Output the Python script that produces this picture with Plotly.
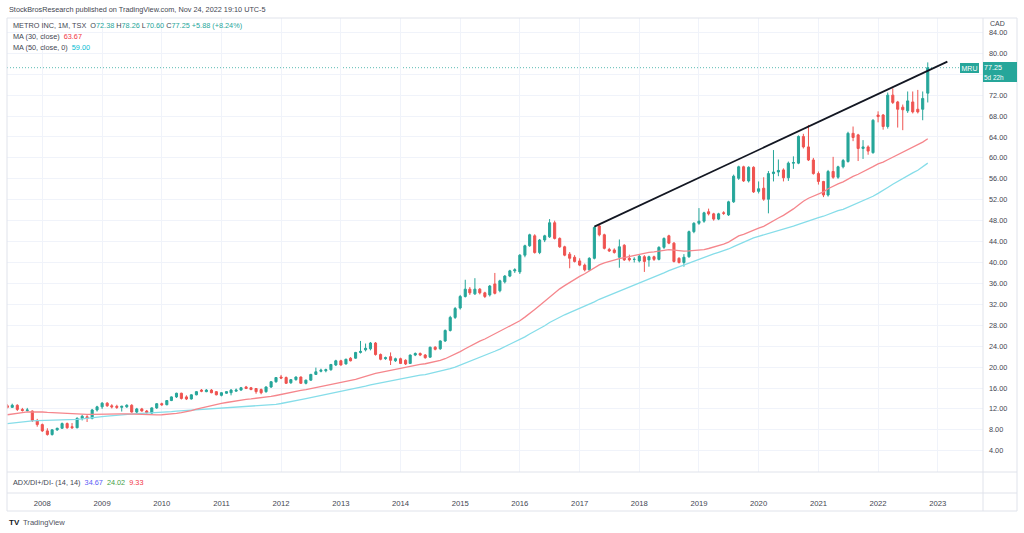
import pandas as pd
import plotly.graph_objects as go

# ---------------- data (monthly candles, Jun 2007 .. Nov 2022) ----------------
start_month = "2007-06-01"

opens = [
    # 2007 Jun-Dec
    12.6, 12.3, 12.7, 11.9, 11.7, 11.6, 9.8,
    # 2008
    9.0, 7.8, 7.1, 8.0, 8.3, 9.2, 8.6, 8.4, 10.2, 10.5, 10.2, 11.8,
    # 2009
    12.4, 13.1, 12.6, 12.5, 12.3, 12.4, 12.7, 11.4, 12.0, 11.6, 11.2, 12.2,
    # 2010
    13.0, 12.8, 13.6, 14.3, 15.0, 14.3, 13.9, 14.7, 15.6, 15.3, 15.6, 15.3,
    # 2011
    14.6, 15.0, 15.1, 15.4, 15.6, 16.2, 16.05, 15.9, 15.7, 15.3, 16.2, 17.2,
    # 2012
    18.1, 18.0, 17.0, 17.6, 18.1, 16.9, 17.5, 18.6, 19.2, 19.3, 19.5, 20.4,
    # 2013
    21.2, 20.6, 21.7, 21.7, 22.8, 23.3, 23.5, 24.6, 22.4, 21.6, 22.0, 21.2,
    # 2014
    21.6, 21.3, 20.7, 22.3, 22.6, 22.3, 21.9, 23.8, 23.5, 25.0, 27.0, 29.5,
    # 2015
    31.3, 33.5, 34.9, 34.0, 34.9, 34.2, 33.8, 35.9, 34.6, 36.3, 37.4, 38.4,
    # 2016
    38.2, 41.4, 43.2, 45.1, 41.9, 44.3, 44.9, 47.6, 44.6, 43.0, 41.6, 41.0,
    # 2017
    40.3, 39.5, 38.6, 40.8, 47.0, 45.3, 42.5, 42.4, 41.0, 43.3, 40.8, 40.6,
    # 2018
    40.3, 41.1, 40.5, 41.1, 40.6, 42.9, 45.1, 43.7, 40.8, 40.0, 41.1, 45.9,
    # 2019
    47.5, 47.9, 49.7, 49.3, 48.3, 49.5, 49.1, 51.6, 56.1, 58.3, 55.6, 58.2,
    # 2020
    53.6, 54.2, 52.1, 57.0, 57.3, 57.7, 56.2, 59.0, 59.0, 64.1, 62.1, 59.6,
    # 2021
    57.0, 55.5, 52.9, 57.4, 56.3, 58.3, 59.3, 64.7, 64.4, 61.8, 62.1, 61.0,
    # 2022 Jan-Nov
    68.2, 68.2, 66.0, 72.0, 70.7, 69.7, 69.0, 70.7, 69.3, 69.3, 72.38,
]
highs = [
    12.9, 13.0, 12.9, 12.2, 12.2, 11.7, 10.1,
    9.2, 8.3, 8.1, 8.4, 9.4, 9.4, 9.3, 10.4, 10.9, 10.8, 12.0, 12.6,
    13.3, 13.3, 12.9, 12.8, 12.6, 12.9, 12.9, 12.2, 12.2, 11.8, 12.3, 13.1,
    13.2, 13.7, 14.4, 15.1, 15.1, 14.6, 14.8, 15.4, 15.8, 15.8, 15.8, 15.4,
    15.2, 15.4, 15.8, 15.9, 16.2, 16.4, 16.2, 16.0, 15.9, 16.3, 17.3, 18.1,
    18.5, 18.2, 17.7, 18.2, 18.2, 17.6, 18.7, 19.9, 19.7, 19.7, 20.6, 21.4,
    21.4, 21.6, 21.9, 22.9, 25.0, 24.5, 24.8, 24.8, 22.6, 22.0, 22.8, 21.8,
    21.8, 21.5, 22.4, 22.8, 22.8, 22.5, 23.9, 24.0, 25.1, 27.2, 29.8, 31.5,
    33.8, 36.7, 35.3, 37.0, 35.1, 34.4, 35.7, 38.0, 36.7, 37.6, 38.6, 38.9,
    41.6, 43.4, 45.5, 45.4, 44.5, 45.3, 48.3, 48.0, 44.8, 43.2, 42.0, 41.4,
    40.8, 39.8, 41.0, 46.9, 47.3, 45.5, 42.8, 42.7, 44.4, 43.5, 41.5, 41.0,
    41.5, 41.4, 41.3, 41.3, 43.1, 44.8, 45.3, 43.9, 41.0, 41.6, 46.1, 47.7,
    50.4, 49.7, 50.3, 49.5, 49.5, 49.8, 51.8, 56.8, 58.5, 58.5, 58.4, 58.4,
    55.5, 56.3, 57.5, 61.5, 59.7, 58.0, 59.3, 60.3, 64.3, 64.6, 66.3, 60.0,
    57.4, 55.6, 57.7, 60.2, 58.5, 59.8, 65.0, 66.0, 64.6, 63.4, 62.4, 67.4,
    68.9, 68.4, 72.5, 73.3, 70.9, 70.2, 72.7, 72.7, 73.0, 72.7, 78.26,
]
lows = [
    12.1, 12.2, 11.6, 11.5, 11.5, 9.5, 8.6,
    7.6, 6.9, 6.9, 7.8, 8.2, 8.2, 8.2, 8.3, 9.8, 9.5, 10.0, 11.5,
    12.0, 12.4, 12.1, 12.0, 11.5, 12.2, 11.3, 11.2, 11.5, 11.1, 11.0, 12.0,
    12.6, 12.7, 13.5, 14.1, 13.8, 13.7, 13.8, 14.6, 15.2, 15.2, 15.0, 14.6,
    14.4, 14.9, 14.6, 15.3, 15.5, 15.8, 15.6, 14.9, 14.8, 15.1, 16.0, 17.0,
    17.7, 16.8, 16.8, 17.4, 16.8, 16.7, 17.4, 18.5, 19.0, 19.0, 19.3, 20.2,
    20.3, 20.5, 21.1, 21.6, 22.6, 23.0, 23.2, 22.2, 21.3, 21.4, 20.4, 21.0,
    20.6, 20.4, 20.6, 22.1, 22.1, 21.6, 21.8, 23.2, 23.3, 24.8, 26.8, 29.2,
    31.0, 33.3, 33.8, 33.8, 33.9, 33.2, 33.5, 33.9, 34.3, 36.0, 37.2, 38.0,
    37.8, 41.0, 43.0, 41.7, 41.6, 43.9, 44.7, 44.4, 42.8, 41.2, 38.9, 40.0,
    39.3, 38.3, 38.4, 40.6, 45.0, 42.5, 42.0, 41.7, 39.0, 40.3, 40.2, 40.0,
    40.0, 38.2, 39.2, 40.3, 40.4, 42.6, 43.5, 40.0, 39.8, 39.2, 40.9, 45.6,
    47.2, 47.6, 49.0, 48.0, 48.1, 49.1, 48.9, 51.4, 55.8, 55.4, 55.3, 53.3,
    53.2, 51.8, 49.4, 55.5, 56.5, 55.5, 55.6, 57.9, 58.8, 61.8, 59.4, 56.8,
    54.9, 52.5, 52.6, 56.0, 56.0, 58.0, 59.1, 63.2, 59.4, 59.8, 60.6, 60.8,
    66.8, 65.4, 65.6, 70.3, 65.8, 65.3, 68.6, 68.5, 68.5, 67.2, 70.60,
]
closes = [
    12.3, 12.7, 11.9, 11.7, 11.8, 9.8, 9.0,
    7.8, 7.1, 8.0, 8.3, 9.2, 8.4, 8.4, 10.2, 10.6, 10.2, 11.8, 12.4,
    13.1, 12.6, 12.4, 12.3, 12.5, 12.7, 11.4, 12.0, 11.6, 11.3, 12.2, 13.0,
    12.8, 13.6, 14.3, 15.0, 14.0, 13.9, 14.7, 15.3, 15.4, 15.6, 15.1, 14.7,
    15.1, 15.3, 15.6, 15.6, 16.05, 15.9, 15.7, 15.3, 15.1, 16.2, 17.2, 18.0,
    17.9, 16.9, 17.6, 18.1, 16.9, 17.5, 18.6, 19.1, 19.4, 19.5, 20.5, 21.2,
    20.4, 21.5, 21.2, 22.8, 23.0, 23.6, 24.6, 22.4, 21.5, 21.8, 21.3, 21.6,
    20.7, 20.6, 22.3, 22.6, 22.3, 21.8, 23.8, 23.4, 25.0, 27.0, 29.5, 31.2,
    33.5, 34.9, 34.2, 34.9, 34.2, 33.5, 35.5, 34.1, 36.5, 37.4, 38.4, 38.6,
    41.4, 43.2, 45.3, 41.9, 44.3, 45.1, 47.6, 44.6, 43.0, 41.4, 40.8, 40.2,
    39.5, 38.6, 40.8, 46.7, 45.3, 42.7, 42.2, 41.9, 43.0, 40.5, 40.5, 40.6,
    41.2, 40.2, 41.1, 40.6, 42.9, 44.6, 43.7, 40.2, 40.0, 41.0, 45.9, 47.5,
    47.9, 49.5, 49.3, 48.3, 49.3, 49.4, 51.6, 56.5, 58.3, 55.6, 58.2, 53.5,
    54.1, 52.1, 57.0, 57.3, 57.6, 56.2, 59.0, 59.1, 64.1, 62.1, 59.6, 57.0,
    55.5, 52.9, 57.4, 56.3, 58.3, 59.5, 64.7, 63.9, 61.8, 62.1, 61.3, 67.2,
    67.9, 66.0, 72.0, 70.6, 69.3, 69.2, 70.9, 68.8, 68.8, 71.37, 77.25,
]
# earlier monthly closes (May 2003 .. May 2007), off-screen, used only to warm up the MAs
closes_before = [
    6.3, 6.4, 6.5, 6.4, 6.6, 6.7, 6.9, 7.0,
    7.0, 7.1, 6.9, 6.6, 6.4, 6.5, 6.6, 6.3, 6.4, 6.5, 6.7, 7.0,
    7.6, 7.9, 8.1, 8.3, 8.6, 9.0, 9.3, 9.5, 9.8, 10.1, 10.4, 10.6,
    10.8, 10.5, 10.9, 11.2, 11.6, 11.4, 11.8, 12.2, 12.5, 12.3, 12.6, 12.8,
    12.9, 13.1, 13.0, 12.8, 12.7,
]

trend_dates = ["2017-04-01", "2023-03-01"]
trend_values = [46.85, 78.4]

year_labels = ["2008", "2009", "2010", "2011", "2012", "2013", "2014", "2015",
               "2016", "2017", "2018", "2019", "2020", "2021", "2022", "2023"]
price_ticks = [4, 8, 12, 16, 20, 24, 28, 32, 36, 40, 44, 48, 52, 56, 60, 64, 68, 72, 76, 80, 84]
hidden_ticks = [76]  # covered by the last-price label in the original
adx_values = [34.67, 24.02, 9.33]
countdown = "5d 22h"

# ---------------- derived ----------------
months = pd.date_range(start_month, periods=len(closes), freq="MS")
series_all = pd.Series(closes_before + closes)
ma30 = series_all.rolling(30).mean().iloc[len(closes_before):].tolist()
ma50 = series_all.rolling(50).mean().iloc[len(closes_before):].tolist()

TEAL = "#26a69a"
RED = "#ef5350"
TXT = "#434651"
GRID = "#f0f3fa"
BORDER = "#e0e3eb"
FONT = "Liberation Sans, Arial, sans-serif"

W, H = 1024, 533
ML, MR, MT, MB = 7, 41, 18, 40
PW, PH = W - ML - MR, H - MT - MB


def px_x(x):
    return (x - ML) / PW


def px_y(y):
    return (H - MB - y) / PH


fig = go.Figure()
fig.add_trace(go.Candlestick(
    x=months, open=opens, high=highs, low=lows, close=closes,
    increasing=dict(line=dict(color=TEAL, width=1), fillcolor=TEAL),
    decreasing=dict(line=dict(color=RED, width=1), fillcolor=RED),
    whiskerwidth=0, showlegend=False, hoverinfo="skip",
))
fig.add_trace(go.Scatter(x=months, y=ma50, mode="lines",
                         line=dict(color="#86dde9", width=1.3),
                         showlegend=False, hoverinfo="skip"))
fig.add_trace(go.Scatter(x=months, y=ma30, mode="lines",
                         line=dict(color="#f5868c", width=1.3),
                         showlegend=False, hoverinfo="skip"))
fig.add_trace(go.Scatter(x=trend_dates, y=trend_values, mode="lines",
                         line=dict(color="#131722", width=1.8),
                         showlegend=False, hoverinfo="skip"))

last = closes[-1]
prev = closes[-2]
chg = last - prev
pct = chg / prev * 100

shapes = [
    # last price dotted line
    dict(type="line", xref="paper", yref="y", x0=0, x1=px_x(960), y0=last, y1=last,
         line=dict(color="rgba(38,166,154,0.75)", width=1, dash="1px,2px"), layer="below"),
    # outer frame
    dict(type="rect", xref="paper", yref="paper", x0=px_x(7), x1=px_x(1017),
         y0=px_y(511), y1=px_y(18), line=dict(color=BORDER, width=1)),
    # pane separators
    dict(type="line", xref="paper", yref="paper", x0=px_x(7), x1=px_x(1017),
         y0=px_y(472), y1=px_y(472), line=dict(color=BORDER, width=1)),
    dict(type="line", xref="paper", yref="paper", x0=px_x(7), x1=px_x(1017),
         y0=px_y(493), y1=px_y(493), line=dict(color=BORDER, width=1)),
    # price scale separator
    dict(type="line", xref="paper", yref="paper", x0=px_x(983), x1=px_x(983),
         y0=px_y(511), y1=px_y(18), line=dict(color=BORDER, width=1)),
]


def span(color, text):
    return f"<span style='color:{color}'>{text}</span>"


line1 = ("METRO INC, 1M, TSX&nbsp;&nbsp;O" + span(TEAL, f"{opens[-1]:.2f}")
         + "&nbsp;H" + span(TEAL, f"{highs[-1]:.2f}")
         + "&nbsp;L" + span(TEAL, f"{lows[-1]:.2f}")
         + "&nbsp;C" + span(TEAL, f"{last:.2f}")
         + "&nbsp;" + span(TEAL, f"+{chg:.2f} (+{pct:.2f}%)"))
line2 = "MA (30, close)&nbsp;&nbsp;" + span("#f23645", f"{ma30[-1]:.2f}")
line3 = "MA (50, close, 0)&nbsp;&nbsp;" + span("#00bcd4", f"{ma50[-1]:.2f}")
adx_line = ("ADX/DI+/DI- (14, 14)&nbsp;&nbsp;" + span("#5b5cf6", f"{adx_values[0]:.2f}")
            + "&nbsp;&nbsp;" + span("#43a047", f"{adx_values[1]:.2f}")
            + "&nbsp;&nbsp;" + span("#f23645", f"{adx_values[2]:.2f}"))


def ann(text, x, y, size=7.3, color=TXT, xanchor="left", **kw):
    d = dict(text=text, xref="paper", yref="paper", x=px_x(x), y=px_y(y),
             xanchor=xanchor, yanchor="middle", showarrow=False,
             font=dict(family=FONT, size=size, color=color))
    d.update(kw)
    return d


annotations = [
    ann("StockBrosResearch published on TradingView.com, Nov 24, 2022 19:10 UTC-5", 6.5, 9.5, size=7.3),
    ann(line1, 10.5, 25.7),
    ann(line2, 10.5, 36.3),
    ann(line3, 10.5, 47),
    ann(adx_line, 10.5, 482),
    ann("CAD", 987.5, 23.5, size=7.0),
    ann("<b>TV</b>", 6.5, 522, size=8, color="#131722"),
    ann("TradingView", 20.5, 522, size=7.6, color="#50535e"),
    # last price label on the scale (two stacked teal cells)
    dict(text=f"{last:.2f}", xref="paper", yref="y",
         x=px_x(983), y=last, xanchor="left", yanchor="middle",
         showarrow=False, align="left", bgcolor=TEAL, borderpad=1, borderwidth=0,
         width=32, height=9,
         font=dict(family=FONT, size=7.2, color="white")),
    dict(text=countdown, xref="paper", yref="y",
         x=px_x(983), y=last, xanchor="left", yanchor="middle", yshift=-9.5,
         showarrow=False, align="left", bgcolor=TEAL, borderpad=1, borderwidth=0,
         width=32, height=8,
         font=dict(family=FONT, size=6.4, color="white")),
    dict(text="MRU", xref="paper", yref="y", x=px_x(978.5), y=last,
         xanchor="right", yanchor="middle", showarrow=False, bgcolor=TEAL,
         borderpad=1.5, borderwidth=0, font=dict(family=FONT, size=7, color="white")),
]

fig.update_layout(
    width=W, height=H,
    margin=dict(l=ML, r=MR, t=MT, b=MB, pad=0),
    paper_bgcolor="white", plot_bgcolor="white",
    showlegend=False,
    font=dict(family=FONT, size=7.3, color=TXT),
    xaxis=dict(
        type="date", range=["2007-05-30", "2023-10-05"],
        rangeslider=dict(visible=False),
        tickvals=[f"{y}-01-01" for y in year_labels], ticktext=year_labels,
        showgrid=True, gridcolor=GRID, gridwidth=1,
        showline=False, zeroline=False, ticks="",
        anchor="free", position=0,
        tickfont=dict(family=FONT, size=7.7, color=TXT),
        ticklabelstandoff=4,
    ),
    yaxis=dict(
        side="right", domain=[px_y(472), 1], range=[-0.06, 86.75],
        tickvals=price_ticks,
        ticktext=["" if v in hidden_ticks else f"{v:.2f}" for v in price_ticks],
        showgrid=True, gridcolor=GRID, gridwidth=1,
        showline=False, zeroline=False, ticks="",
        tickfont=dict(family=FONT, size=7.3, color=TXT),
        ticklabelstandoff=5,
    ),
    shapes=shapes,
    annotations=annotations,
    boxgap=0.35,
)

fig.write_html("out.html", config={"displayModeBar": False},
               post_script="document.body.style.margin='0';document.body.style.padding='0';")
